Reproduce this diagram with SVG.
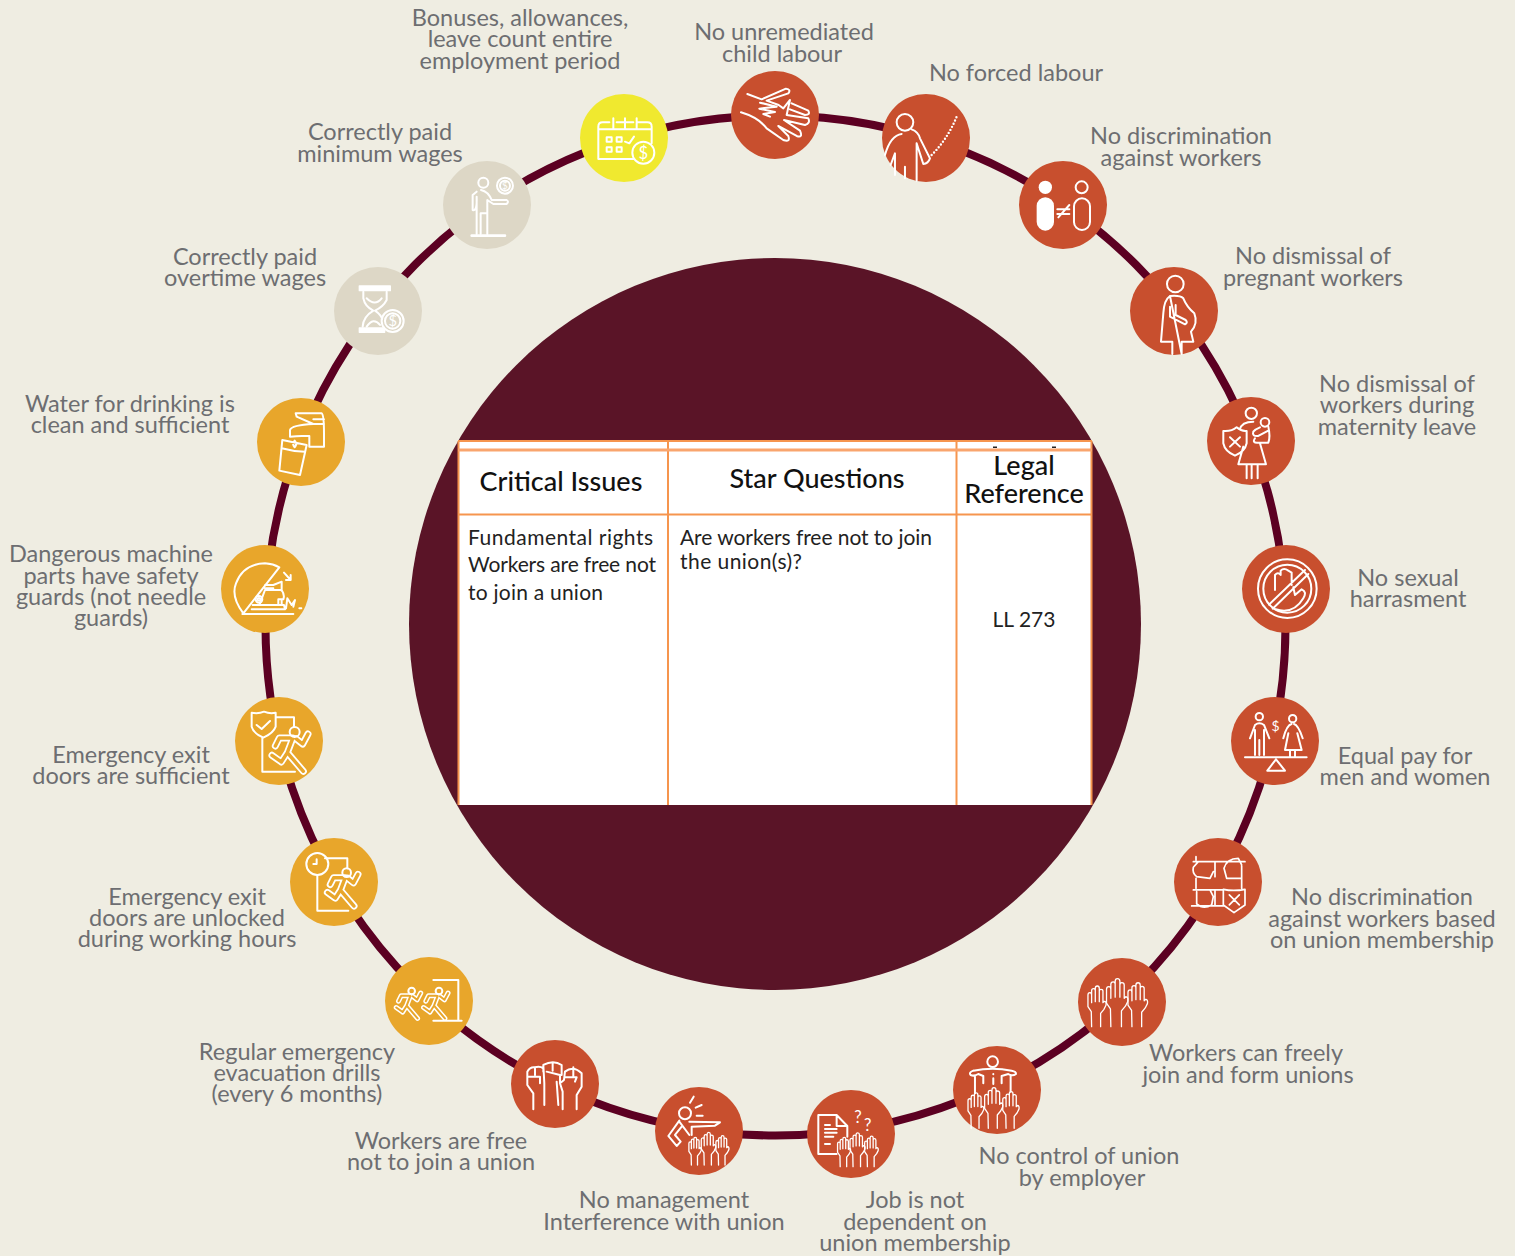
<svg xmlns="http://www.w3.org/2000/svg" width="1515" height="1256" viewBox="0 0 1515 1256">
<style>
text{font-family:"Lato","Liberation Sans",sans-serif}
.lb{font-size:23.500px;fill:#6d6e71;text-anchor:middle}
.th{font-size:27px;fill:#111;text-anchor:middle;font-weight:500}
.td{font-size:21px;fill:#222}
.red{fill:#c84f2e}.amb{fill:#e8a62b}.bei{fill:#ddd7c6}.yel{fill:#f0e92f}
.ic{fill:none;stroke:#fff;stroke-width:2px;stroke-linecap:round;stroke-linejoin:round}
.ic *,#hand path,#runp{vector-effect:non-scaling-stroke}
.ic text{fill:#fff;stroke:none;text-anchor:middle}
.sol{fill:#fff;stroke:none}
.ro{stroke-width:7px}.ri{stroke:#e8a62b;stroke-width:3.400px}
.so{stroke-width:5px}.si{stroke:#e8a62b;stroke-width:2px}
.tl{stroke:#f6954e;stroke-width:2px;fill:none}
</style>
<defs>
<g id="hand" stroke-width="1.300"><path d="M-13 0L-14-45L-24-60V-95Q-24-102-18-102Q-13-102-13-95V-108Q-13-114-7-114Q-2-114-2-108V-115Q-2-122 4-122Q10-122 10-115V-106Q10-112 15-112Q21-112 21-106V-72L25-76Q32-76 30-64L24-52L14-40V0M-13-95V-72M-2-108V-75M10-106V-75"/></g>
<path id="runp" d="M-6 20L-22 62L26 118M-22 62L-40 90L-68 70M-6 18L-46 18L-58 42M4 20L24 36L40 6"/>
</defs>
<rect width="1515" height="1256" fill="#efede2"/>
<g id="connectors"><circle cx="775.5" cy="625.5" r="510" fill="none" stroke="#5c0022" stroke-width="8"/></g>
<g id="center"><circle cx="775" cy="624" r="366" fill="#5a1427"/></g>
<g id="table">
<rect x="458" y="441" width="634" height="364" fill="#fff"/>
<path class="tl" d="M458 441H1092M458 514.500H1092M458.500 441V805M668 441V805M956.500 441V805M1091.500 441V805"/>
<path d="M458 450H1092" stroke="#f9a56e" stroke-width="3"/>
<rect x="993" y="446.500" width="4" height="1.500" fill="#222"/><rect x="1052" y="446.500" width="4" height="1.500" fill="#222"/>
<text class="th" x="561" y="491">Critical Issues</text>
<text class="th" x="817" y="488">Star Questions</text>
<text class="th" x="1024" y="475">Legal</text>
<text class="th" x="1024" y="503">Reference</text>
<text class="td" x="468" y="545" textLength="185">Fundamental rights</text>
<text class="td" x="468" y="572" textLength="188">Workers are free not</text>
<text class="td" x="468" y="600" textLength="135">to join a union</text>
<text class="td" x="680" y="545" textLength="252">Are workers free not to join</text>
<text class="td" x="680" y="569" textLength="122">the union(s)?</text>
<text class="td" x="1024" y="627" text-anchor="middle">LL 273</text>
</g>

<g id="n-bonuses"><circle class="yel" cx="624" cy="138" r="44"/>
<g class="ic" transform="translate(570 60) scale(.3333)"><path d="M200 187H232Q245 187 245 200V250M190 297H85V200Q85 187 98 187H118M140 187H190M85 208H245M130 175V205M165 175V205M200 175V205M165 245L178 250L192 230"/><rect x="110" y="232" width="15" height="13"/><rect x="140" y="232" width="15" height="13"/><rect x="110" y="262" width="15" height="13"/><rect x="140" y="262" width="15" height="13"/><circle cx="220" cy="278" r="33" fill="#f0e92f"/><text x="220" y="296" font-size="50">$</text></g>
<text class="lb" x="520" y="26">Bonuses, allowances,</text><text class="lb" x="520" y="47">leave count entire</text><text class="lb" x="520" y="69">employment period</text></g>

<g id="n-child"><circle class="red" cx="775" cy="115" r="44"/>
<g class="ic" transform="translate(570 60) scale(.3333)"><path d="M532 102L575 118L648 86Q664 88 655 100L590 122L626 135L640 145L660 120L650 165M570 128L620 140L568 146L615 156L580 162L600 170M513 157C550 168 575 185 590 205L640 240Q662 248 655 228L625 198L680 228Q700 235 690 212L642 180L705 195Q722 190 715 175L650 165M665 130L715 152Q722 165 705 165L660 148"/></g>
<text class="lb" x="784" y="40">No unremediated</text><text class="lb" x="782" y="62">child labour</text></g>

<g id="n-forced"><circle class="red" cx="926" cy="138" r="44"/>
<g class="ic" transform="translate(570 60) scale(.3333)"><circle cx="1005" cy="187" r="25"/><path d="M945 285C955 250 970 225 995 222M1025 208Q1045 215 1050 235L1080 295Q1075 310 1060 312L1040 250V362M962 315L975 280V345M1005 320V355"/><path d="M1085 285Q1135 235 1162 165" stroke-width="2.400" stroke-dasharray="0 3.500"/></g>
<text class="lb" x="1016" y="81">No forced labour</text></g>

<g id="n-discrimination"><circle class="red" cx="1063" cy="205" r="44"/>
<g class="ic" transform="translate(1010 150) scale(.3333)"><circle class="sol" cx="106" cy="112" r="20"/><rect class="sol" x="80" y="142" width="52" height="100" rx="26"/><circle cx="215" cy="112" r="18"/><rect x="192" y="145" width="48" height="95" rx="24"/><path d="M142 178H178M142 192H178M145 202L178 165"/></g>
<text class="lb" x="1181" y="144">No discrimination</text><text class="lb" x="1181" y="166">against workers</text></g>

<g id="n-pregnant"><circle class="red" cx="1174" cy="311" r="44"/>
<g class="ic" transform="translate(1010 150) scale(.3333)"><circle cx="496" cy="402" r="25"/><path d="M480 438Q462 450 460 490L453 575H487V612M515 612V575H550L543 545Q565 520 553 490Q530 470 520 445Q510 435 480 438ZM480 470V500L525 523Q535 518 527 510L497 495V465"/></g>
<text class="lb" x="1313" y="264">No dismissal of</text><text class="lb" x="1313" y="286">pregnant workers</text></g>

<g id="n-maternity"><circle class="red" cx="1251" cy="441" r="44"/>
<g class="ic" transform="translate(1010 150) scale(.3333)"><circle cx="724" cy="790" r="17"/><circle cx="765" cy="817" r="13"/><path d="M690 838Q695 815 730 815M700 890L685 943H768L750 880M710 945V985M725 945V985M743 945V985M640 843Q665 845 680 832Q695 845 710 843V880Q705 905 675 917Q645 905 640 880ZM660 862L690 890M690 862L660 890M750 832Q735 838 730 845Q725 860 745 858L775 842M735 865Q725 880 745 878L775 878Q782 860 775 830"/></g>
<text class="lb" x="1397" y="392">No dismissal of</text><text class="lb" x="1397" y="413">workers during</text><text class="lb" x="1397" y="435">maternity leave</text></g>

<g id="n-harassment"><circle class="red" cx="1286" cy="589" r="44"/>
<g class="ic" transform="translate(1160 530) scale(.3333)"><circle cx="382" cy="176" r="88"/><circle cx="382" cy="176" r="72"/><path d="M327 224L435 120M338 236L445 132M345 180V135Q354 125 362 135V122Q372 112 385 122L395 128V165M347 238Q400 255 430 205Q442 185 425 178L405 195L400 172"/></g>
<text class="lb" x="1408" y="586">No sexual</text><text class="lb" x="1408" y="607">harrasment</text></g>

<g id="n-equal"><circle class="red" cx="1275" cy="741" r="44"/>
<g class="ic" transform="translate(1160 530) scale(.3333)"><circle cx="298" cy="560" r="11"/><circle cx="398" cy="566" r="11"/><path d="M270 625L285 585Q298 575 312 585L328 625M285 600V675M298 630V675M312 600V675M395 582Q380 585 370 625M402 582Q415 585 428 625M385 610L375 660H425L412 610M390 660V678M405 660V678M322 722H375L348 688ZM255 682H440"/><text x="347" y="604" font-size="42">$</text></g>
<text class="lb" x="1405" y="764">Equal pay for</text><text class="lb" x="1405" y="785">men and women</text></g>

<g id="n-union-disc"><circle class="red" cx="1218" cy="882" r="44"/>
<g class="ic" transform="translate(1160 530) scale(.3333)"><path d="M108 980V990M108 1045V1075M100 995H255M165 995V1040M245 1005V1075M100 1080H190M95 1128H190M165 1080V1128M100 1012Q96 1030 110 1040L150 1045L160 1025M115 995L100 1012M200 1045L192 1015Q200 985 235 985L245 1005M200 1045H245M110 1085V1122Q130 1140 155 1125L160 1100L150 1080M190 1078Q220 1085 255 1078V1125L222 1148L190 1125ZM208 1095L238 1125M238 1095L208 1125" stroke-width="1.700"/></g>
<text class="lb" x="1382" y="905">No discrimination</text><text class="lb" x="1382" y="927">against workers based</text><text class="lb" x="1382" y="948">on union membership</text></g>

<g id="n-join"><circle class="red" cx="1122" cy="1002" r="44"/>
<g class="ic" transform="translate(640 950) scale(.3333)"><use href="#hand" transform="translate(1368 230)"/><use href="#hand" transform="translate(1428 230) scale(1.180)"/><use href="#hand" transform="translate(1490 230) scale(1.080)"/></g>
<text class="lb" x="1246" y="1061">Workers can freely</text><text class="lb" x="1248" y="1083">join and form unions</text></g>

<g id="n-control"><circle class="red" cx="997" cy="1090" r="44"/>
<g class="ic" transform="translate(640 950) scale(.3333)"><circle cx="1058" cy="335" r="16"/><path d="M1000 362Q1058 350 1115 362Q1130 365 1128 372Q1118 380 1105 372L1085 378V400M1000 362Q985 368 992 375Q1003 380 1015 372L1030 378V400M1060 372V373M1060 385V402M1005 378V430M1112 375V425"/><use href="#hand" transform="translate(1005 535) scale(.870)"/><use href="#hand" transform="translate(1058 535)"/><use href="#hand" transform="translate(1110 535) scale(.900)"/></g>
<text class="lb" x="1079" y="1164">No control of union</text><text class="lb" x="1082" y="1186">by employer</text></g>

<g id="n-job"><circle class="red" cx="851" cy="1134" r="44"/>
<g class="ic" transform="translate(640 950) scale(.3333)"><path d="M590 612H535V495H590L622 528V560M590 495V528H622M555 525H570M555 537H590M555 548H590M555 560H580M555 582H570"/><text x="654" y="520" font-size="50">?</text><text x="683" y="543" font-size="50">?</text><use href="#hand" transform="translate(610 650) scale(.720)"/><use href="#hand" transform="translate(650 650) scale(.830)"/><use href="#hand" transform="translate(692 650) scale(.750)"/></g>
<text class="lb" x="915" y="1208">Job is not</text><text class="lb" x="915" y="1230">dependent on</text><text class="lb" x="915" y="1251">union membership</text></g>

<g id="n-management"><circle class="red" cx="699" cy="1131" r="44"/>
<g class="ic" transform="translate(640 950) scale(.3333)"><circle cx="135" cy="490" r="18"/><path d="M150 458L161 440M167 473L185 465M170 497H188M148 515L240 517L225 527L155 530V555M118 512L85 558L110 588L122 575L105 555L125 530M118 515L148 555"/><use href="#hand" transform="translate(163 645) scale(.680)"/><use href="#hand" transform="translate(203 645) scale(.800)"/><use href="#hand" transform="translate(245 645) scale(.720)"/></g>
<text class="lb" x="664" y="1208">No management</text><text class="lb" x="664" y="1230">Interference with union</text></g>

<g id="n-free"><circle class="red" cx="555" cy="1084" r="44"/>
<g class="ic" transform="translate(380 950) scale(.3333)"><path d="M460 478V430L442 405V365Q450 350 465 352Q480 348 490 355M442 380H480V400M493 465V400L490 345Q520 328 545 345V375M500 365Q520 370 540 375V400M530 395L535 465M548 478V425L540 400L552 390L555 365Q580 345 605 370V410L590 435V478M555 382H590L585 395M465 352V375M490 345V365M518 338V362M580 352V380"/></g>
<text class="lb" x="441" y="1149">Workers are free</text><text class="lb" x="441" y="1170">not to join a union</text></g>

<g id="n-drills"><circle class="amb" cx="429" cy="1001" r="44"/>
<g class="ic" transform="translate(380 950) scale(.3333)"><path d="M160 90H235V212M160 212H245"/><g transform="translate(177 125) scale(.680)"><use href="#runp" class="so"/><use href="#runp" class="si"/></g><g transform="translate(95 125) scale(.680)"><use href="#runp" class="so"/><use href="#runp" class="si"/></g><circle cx="177" cy="123" r="10"/><circle cx="95" cy="123" r="10"/></g>
<text class="lb" x="297" y="1060">Regular emergency</text><text class="lb" x="297" y="1081">evacuation drills</text><text class="lb" x="297" y="1102">(every 6 months)</text></g>

<g id="n-unlocked"><circle class="amb" cx="334" cy="882" r="44"/>
<g class="ic" transform="translate(210 540) scale(.3333)"><circle cx="322" cy="972" r="33"/><path d="M320 958V972H310M345 955H412V985M322 1005V1112H415"/><g transform="translate(410 998) scale(.850)"><use href="#runp" class="ro"/><use href="#runp" class="ri"/></g><circle cx="410" cy="998" r="13"/></g>
<text class="lb" x="187" y="905">Emergency exit</text><text class="lb" x="187" y="926">doors are unlocked</text><text class="lb" x="187" y="947">during working hours</text></g>

<g id="n-sufficient"><circle class="amb" cx="279" cy="741" r="44"/>
<g class="ic" transform="translate(210 540) scale(.3333)"><path d="M125 518Q145 522 162 515Q180 522 197 518V560Q190 580 160 593Q130 580 125 560ZM140 555L155 567L180 543M197 532H252V560M157 593V695H255"/><g transform="translate(254 576)"><use href="#runp" class="ro"/><use href="#runp" class="ri"/></g><circle cx="254" cy="576" r="15"/></g>
<text class="lb" x="131" y="763">Emergency exit</text><text class="lb" x="131" y="784">doors are sufficient</text></g>

<g id="n-machine"><circle class="amb" cx="265" cy="589" r="44"/>
<g class="ic" transform="translate(210 540) scale(.3333)" stroke-width="1.500"><path d="M100 220Q62 170 78 130Q100 72 165 70Q190 72 208 82ZM97 222H250M125 208H225M128 195H222L225 208M150 190L165 150H215Q225 165 220 178H205V195M215 178V195M165 135H190L215 125V152M222 98L242 120M242 105V120H228M228 205L232 175L245 195L255 180L250 200M268 205H274M165 145H190"/><circle cx="147" cy="178" r="10"/><circle cx="147" cy="178" r="4"/></g>
<text class="lb" x="111" y="562">Dangerous machine</text><text class="lb" x="111" y="584">parts have safety</text><text class="lb" x="111" y="605">guards (not needle</text><text class="lb" x="111" y="626">guards)</text></g>

<g id="n-water"><circle class="amb" cx="301" cy="442" r="44"/>
<g class="ic" transform="translate(250 150) scale(.3333)"><path d="M137 790H215Q222 795 222 850V890H178V858H155Q140 858 120 860V840Q125 825 190 822L140 800ZM190 808H222M190 822H222M134 872Q125 882 134 892Q143 882 134 872ZM97 870L170 885L150 975L88 962ZM95 895Q130 905 165 905"/></g>
<text class="lb" x="130" y="412">Water for drinking is</text><text class="lb" x="130" y="433">clean and sufficient</text></g>

<g id="n-overtime"><circle class="bei" cx="378" cy="311" r="44"/>
<g class="ic" transform="translate(250 150) scale(.3333)"><rect class="sol" x="326" y="406" width="97" height="18" rx="2"/><rect class="sol" x="326" y="532" width="80" height="17" rx="2"/><path d="M340 425V445Q345 470 370 482Q340 500 338 530M410 425V450Q400 470 375 482Q395 495 400 515M350 445Q375 470 395 445M350 530Q370 500 390 525"/><circle cx="428" cy="513" r="33" fill="#ddd7c6"/><circle cx="428" cy="513" r="23"/><text x="428" y="529" font-size="44">$</text></g>
<text class="lb" x="245" y="265">Correctly paid</text><text class="lb" x="245" y="286">overtime wages</text></g>

<g id="n-minimum"><circle class="bei" cx="487" cy="205" r="44"/>
<g class="ic" transform="translate(250 150) scale(.3333)"><circle cx="700" cy="98" r="15"/><circle cx="765" cy="107" r="24"/><circle cx="765" cy="107" r="15"/><text x="765" y="118" font-size="30">$</text><path d="M680 125L668 135V180Q682 185 680 140V252M693 120Q715 125 725 150H770Q778 155 770 162H730L712 150V252M692 252V190H712"/><path d="M665 257H765" stroke-width="2.600"/></g>
<text class="lb" x="380" y="140">Correctly paid</text><text class="lb" x="380" y="162">minimum wages</text></g>
</svg>
